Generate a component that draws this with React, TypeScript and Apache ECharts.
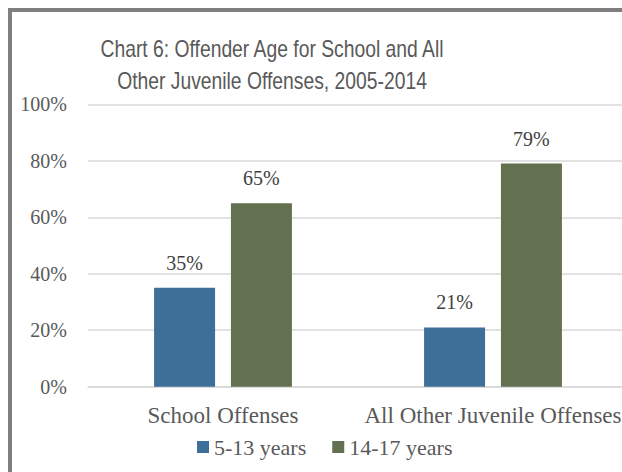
import React, { useEffect, useRef } from "react";
import * as echarts from "echarts";

const categories = ["School Offenses", "All Other Juvenile Offenses"];
const seriesNames = ["5-13 years", "14-17 years"];
const youngValues = [35, 21];
const olderValues = [65, 79];
const yTicks = { min: 0, max: 100, interval: 20 };
const titleLines = ["Chart 6: Offender Age for School and All", "Other Juvenile Offenses, 2005-2014"];

const SERIF = "Liberation Serif";
const SANS = "Liberation Sans";

export default function App() {
  const ref = useRef<HTMLDivElement>(null);
  useEffect(() => {
    if (!ref.current) return;
    const chart = echarts.init(ref.current, undefined, { renderer: "svg" });
    const labelStyle = {
      show: true,
      position: "top",
      distance: 15,
      fontFamily: SERIF,
      fontSize: 20,
      color: "#404040",
      formatter: "{c}%",
    };
    chart.setOption({
      animation: false,
      backgroundColor: "#ffffff",
      textStyle: { fontFamily: SERIF },
      graphic: [
        {
          type: "rect",
          shape: { x: 10, y: 10, width: 800, height: 700 },
          style: { fill: "none", stroke: "#7f7f7f", lineWidth: 4 },
          silent: true,
        },
        {
          type: "text",
          x: 272,
          y: 33,
          scaleX: 0.84,
          style: {
            text: titleLines.join("\n"),
            fontFamily: SANS,
            fontSize: 23,
            fill: "#595959",
            textAlign: "center",
            textVerticalAlign: "top",
            lineHeight: 32,
          },
        },
      ],
      legend: {
        data: seriesNames,
        left: 197,
        top: 436,
        padding: 0,
        itemWidth: 12,
        itemHeight: 12,
        itemGap: 26,
        icon: "rect",
        textStyle: { fontFamily: SERIF, fontSize: 22, color: "#595959" },
      },
      grid: {
        left: 88,
        right: -6,
        top: 104.3,
        bottom: 85.3,
        containLabel: false,
        outerBoundsMode: "none",
      },
      xAxis: {
        type: "category",
        data: categories,
        axisLine: { lineStyle: { color: "#d9d9d9", width: 1.5 } },
        axisTick: { show: false },
        axisLabel: {
          fontFamily: SERIF,
          fontSize: 23,
          color: "#595959",
          margin: 17,
          interval: 0,
        },
      },
      yAxis: {
        type: "value",
        min: yTicks.min,
        max: yTicks.max,
        interval: yTicks.interval,
        axisLine: { show: false },
        axisTick: { show: false },
        splitLine: { lineStyle: { color: "#d9d9d9", width: 1.5 } },
        axisLabel: {
          formatter: "{value}%",
          fontFamily: SERIF,
          fontSize: 20,
          color: "#595959",
          margin: 21,
        },
      },
      series: [
        {
          name: seriesNames[0],
          type: "bar",
          data: youngValues,
          barWidth: 61,
          barGap: "26%",
          itemStyle: { color: "#3e6f98" },
          label: labelStyle,
        },
        {
          name: seriesNames[1],
          type: "bar",
          data: olderValues,
          barWidth: 61,
          barGap: "26%",
          itemStyle: { color: "#637150" },
          label: labelStyle,
        },
      ],
    });
    return () => chart.dispose();
  }, []);
  return (
    <div
      ref={ref}
      style={{ position: "absolute", left: 0, top: 0, width: 622, height: 472 }}
    />
  );
}
